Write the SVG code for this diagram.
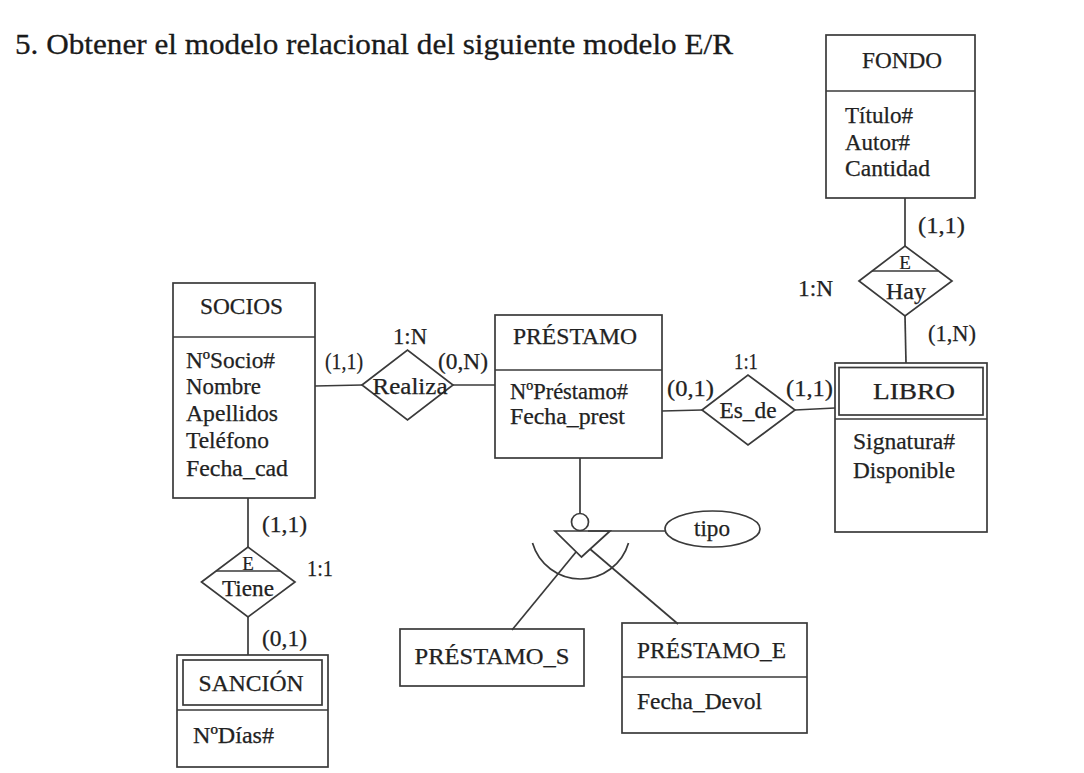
<svg xmlns="http://www.w3.org/2000/svg" width="1084" height="773" viewBox="0 0 1084 773">
<style>
  .bg{fill:#fff}
  .box{fill:none;stroke:#3a3a3a;stroke-width:1.7}
  .ln{fill:none;stroke:#3a3a3a;stroke-width:1.7}
  .t{font-family:"Liberation Serif","Times New Roman",serif;font-size:23px;fill:#222;stroke:#222;stroke-width:0.25}
  .s{font-family:"Liberation Serif","Times New Roman",serif;font-size:19px;fill:#222;stroke:#222;stroke-width:0.2}
  .title{font-family:"Liberation Serif","Times New Roman",serif;font-size:30px;fill:#1a1a1a;stroke:#1a1a1a;stroke-width:0.3}
  .m{text-anchor:middle}
</style>
<rect class="bg" x="0" y="0" width="1084" height="773"/>
<text class="title" x="15" y="54" textLength="718" lengthAdjust="spacingAndGlyphs">5. Obtener el modelo relacional del siguiente modelo E/R</text>

<g id="connectors">
  <line class="ln" x1="315" y1="386" x2="362" y2="385"/>
  <line class="ln" x1="453" y1="385" x2="495" y2="385"/>
  <line class="ln" x1="662" y1="411" x2="702" y2="410"/>
  <line class="ln" x1="795" y1="410" x2="835" y2="408"/>
  <line class="ln" x1="905" y1="198" x2="905" y2="246"/>
  <line class="ln" x1="905" y1="316" x2="906" y2="363"/>
  <line class="ln" x1="248" y1="498" x2="248" y2="547"/>
  <line class="ln" x1="248" y1="617" x2="248" y2="655"/>
  <line class="ln" x1="580" y1="458" x2="580" y2="513"/>
  <line class="ln" x1="588" y1="531" x2="665" y2="531"/>
  <line class="ln" x1="576" y1="552" x2="512" y2="630"/>
  <line class="ln" x1="590" y1="549" x2="678" y2="624"/>
</g>

<g id="socios">
  <rect class="box" x="173" y="283" width="142" height="215"/>
  <line class="ln" x1="173" y1="337" x2="315" y2="337"/>
  <text class="t" x="200" y="314" textLength="83" lengthAdjust="spacingAndGlyphs">SOCIOS</text>
  <text class="t" x="186" y="368" textLength="89" lengthAdjust="spacingAndGlyphs">NºSocio#</text>
  <text class="t" x="186" y="394" textLength="75" lengthAdjust="spacingAndGlyphs">Nombre</text>
  <text class="t" x="186" y="421" textLength="92" lengthAdjust="spacingAndGlyphs">Apellidos</text>
  <text class="t" x="186" y="448" textLength="83" lengthAdjust="spacingAndGlyphs">Teléfono</text>
  <text class="t" x="186" y="476" textLength="102" lengthAdjust="spacingAndGlyphs">Fecha_cad</text>
</g>

<g id="realiza">
  <polygon class="box" points="362,385 407.5,350 453,385 407.5,420"/>
  <text class="t m" x="410" y="394" textLength="75" lengthAdjust="spacingAndGlyphs">Realiza</text>
  <text class="t m" x="410" y="344" textLength="34" lengthAdjust="spacingAndGlyphs">1:N</text>
  <text class="t" x="325" y="369" textLength="38" lengthAdjust="spacingAndGlyphs">(1,1)</text>
  <text class="t" x="438" y="369" textLength="50" lengthAdjust="spacingAndGlyphs">(0,N)</text>
</g>

<g id="prestamo">
  <rect class="box" x="495" y="315" width="167" height="143"/>
  <line class="ln" x1="495" y1="370" x2="662" y2="370"/>
  <text class="t" x="513" y="344" textLength="124" lengthAdjust="spacingAndGlyphs">PRÉSTAMO</text>
  <text class="t" x="510" y="399" textLength="118" lengthAdjust="spacingAndGlyphs">NºPréstamo#</text>
  <text class="t" x="510" y="424" textLength="115" lengthAdjust="spacingAndGlyphs">Fecha_prest</text>
</g>

<g id="es_de">
  <polygon class="box" points="702,410 748,375 795,410 748,445"/>
  <text class="t m" x="748" y="418" textLength="57" lengthAdjust="spacingAndGlyphs">Es_de</text>
  <text class="t m" x="746" y="369" textLength="24" lengthAdjust="spacingAndGlyphs">1:1</text>
  <text class="t" x="667" y="396" textLength="47" lengthAdjust="spacingAndGlyphs">(0,1)</text>
  <text class="t" x="786" y="396" textLength="47" lengthAdjust="spacingAndGlyphs">(1,1)</text>
</g>

<g id="libro">
  <rect class="box" x="835" y="363" width="152" height="169"/>
  <rect class="box" x="839" y="367.5" width="144" height="47.5"/>
  <line class="ln" x1="835" y1="419" x2="987" y2="419"/>
  <text class="t m" x="914" y="399" textLength="82" lengthAdjust="spacingAndGlyphs">LIBRO</text>
  <text class="t" x="853" y="449" textLength="102" lengthAdjust="spacingAndGlyphs">Signatura#</text>
  <text class="t" x="853" y="478" textLength="102" lengthAdjust="spacingAndGlyphs">Disponible</text>
</g>

<g id="fondo">
  <rect class="box" x="826" y="35" width="149" height="163"/>
  <line class="ln" x1="826" y1="91" x2="975" y2="91"/>
  <text class="t m" x="902" y="68" textLength="80" lengthAdjust="spacingAndGlyphs">FONDO</text>
  <text class="t" x="845" y="123" textLength="68" lengthAdjust="spacingAndGlyphs">Título#</text>
  <text class="t" x="845" y="150" textLength="65" lengthAdjust="spacingAndGlyphs">Autor#</text>
  <text class="t" x="845" y="176" textLength="85" lengthAdjust="spacingAndGlyphs">Cantidad</text>
</g>

<g id="hay">
  <polygon class="box" points="859,281 905,246 952,281 905,316"/>
  <line class="ln" x1="872" y1="271" x2="938" y2="271"/>
  <text class="s m" x="905" y="269">E</text>
  <text class="t m" x="906" y="299" textLength="40" lengthAdjust="spacingAndGlyphs">Hay</text>
  <text class="t" x="918" y="233" textLength="47" lengthAdjust="spacingAndGlyphs">(1,1)</text>
  <text class="t" x="798" y="296" textLength="35" lengthAdjust="spacingAndGlyphs">1:N</text>
  <text class="t" x="928" y="341" textLength="48" lengthAdjust="spacingAndGlyphs">(1,N)</text>
</g>

<g id="tiene">
  <polygon class="box" points="201.5,582 248,547 295,582 248,617"/>
  <line class="ln" x1="216" y1="571" x2="280" y2="571"/>
  <text class="s m" x="248" y="570">E</text>
  <text class="t m" x="248" y="596" textLength="52" lengthAdjust="spacingAndGlyphs">Tiene</text>
  <text class="t" x="262" y="532" textLength="45" lengthAdjust="spacingAndGlyphs">(1,1)</text>
  <text class="t" x="307" y="576" textLength="26" lengthAdjust="spacingAndGlyphs">1:1</text>
  <text class="t" x="262" y="646" textLength="45" lengthAdjust="spacingAndGlyphs">(0,1)</text>
</g>

<g id="sancion">
  <rect class="box" x="177" y="655" width="151" height="112"/>
  <rect class="box" x="183" y="660" width="139" height="45"/>
  <line class="ln" x1="177" y1="710" x2="328" y2="710"/>
  <text class="t m" x="251" y="691" textLength="105" lengthAdjust="spacingAndGlyphs">SANCIÓN</text>
  <text class="t" x="193" y="743" textLength="81" lengthAdjust="spacingAndGlyphs">NºDías#</text>
</g>

<g id="especializacion">
  <circle class="box" cx="580" cy="522" r="8.5"/>
  <polygon class="box" points="555,531 610,531 581.5,557"/>
  <path class="ln" d="M532.5,543 A50,50 0 0 0 628.5,543"/>
</g>

<g id="tipo">
  <ellipse class="box" cx="712.5" cy="529" rx="47.5" ry="18"/>
  <text class="t m" x="712" y="536" textLength="36" lengthAdjust="spacingAndGlyphs">tipo</text>
</g>

<g id="prestamo_s">
  <rect class="box" x="400" y="629" width="184" height="57"/>
  <text class="t m" x="492" y="664" textLength="155" lengthAdjust="spacingAndGlyphs">PRÉSTAMO_S</text>
</g>

<g id="prestamo_e">
  <rect class="box" x="622" y="623" width="185" height="110"/>
  <line class="ln" x1="622" y1="677" x2="807" y2="677"/>
  <text class="t" x="637" y="658" textLength="149" lengthAdjust="spacingAndGlyphs">PRÉSTAMO_E</text>
  <text class="t" x="637" y="709" textLength="125" lengthAdjust="spacingAndGlyphs">Fecha_Devol</text>
</g>
</svg>
